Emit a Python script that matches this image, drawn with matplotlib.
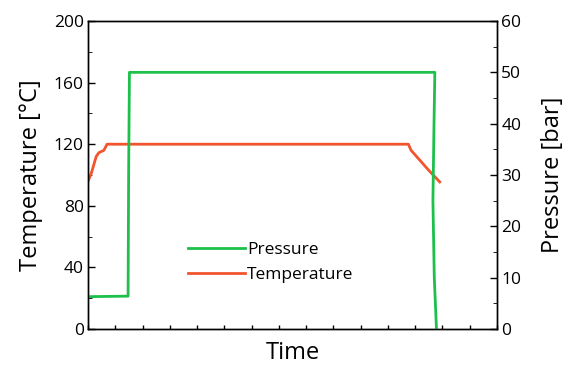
import matplotlib
matplotlib.use("Agg")
import matplotlib.pyplot as plt
from matplotlib.ticker import MultipleLocator, NullFormatter

plt.rcParams['font.family'] = ['Open Sans', 'DejaVu Sans']

# Data (time in arbitrary units 0..15)
time_p = [0.0, 1.47, 1.49, 1.52, 12.72, 12.69, 12.65, 12.7, 12.78]
pressure = [6.3, 6.4, 30.0, 50.0, 50.0, 40.0, 25.0, 10.0, 0.0]

time_t = [0.0, 0.12, 0.3, 0.4, 0.58, 0.7, 11.75, 11.85, 12.5, 12.9]
temperature = [96, 101, 112, 114.5, 116, 120, 120, 116, 103, 95.5]

green = '#1cc04b'
orange = '#f2542d'

fig = plt.figure(figsize=(5.72, 3.65), dpi=100)
ax = fig.add_axes([88/572, 1-329/365, (497-88)/572, (329-21)/365])
ax2 = ax.twinx()

lp, = ax2.plot(time_p, pressure, color=green, lw=2.0, label='Pressure')
lt, = ax.plot(time_t, temperature, color=orange, lw=2.0, label='Temperature')

ax.set_xlim(0, 15)
ax.set_ylim(0, 200)
ax2.set_ylim(0, 60)

ax.set_yticks([0, 40, 80, 120, 160, 200])
ax.yaxis.set_minor_locator(MultipleLocator(20))
ax2.set_yticks([0, 10, 20, 30, 40, 50, 60])
ax2.yaxis.set_minor_locator(MultipleLocator(5))
ax.set_xticks(range(0, 16))
ax.xaxis.set_major_formatter(NullFormatter())

ax.tick_params(axis='y', direction='in', length=5, width=1, labelsize=12.5, pad=3)
ax.tick_params(axis='y', which='minor', direction='in', length=3)
ax.tick_params(axis='x', direction='in', length=3, width=1)
ax2.tick_params(axis='y', direction='in', length=5, width=1, labelsize=12.5, pad=3)
ax2.tick_params(axis='y', which='minor', direction='in', length=3)

for a in (ax, ax2):
    for s in a.spines.values():
        s.set_linewidth(1.0)

ax.set_ylabel('Temperature [°C]', fontsize=17, labelpad=8)
ax2.set_ylabel('Pressure [bar]', fontsize=17, labelpad=14)
ax.set_xlabel('Time', fontsize=17, labelpad=5)

leg = ax.legend([lp, lt], ['Pressure', 'Temperature'], loc='center left',
                bbox_to_anchor=(0.245, 0.215), frameon=False, fontsize=12.5,
                handlelength=3.3, handletextpad=0.1, labelspacing=0.5,
                borderaxespad=0, borderpad=0)

fig.savefig('out.png', dpi=100)
